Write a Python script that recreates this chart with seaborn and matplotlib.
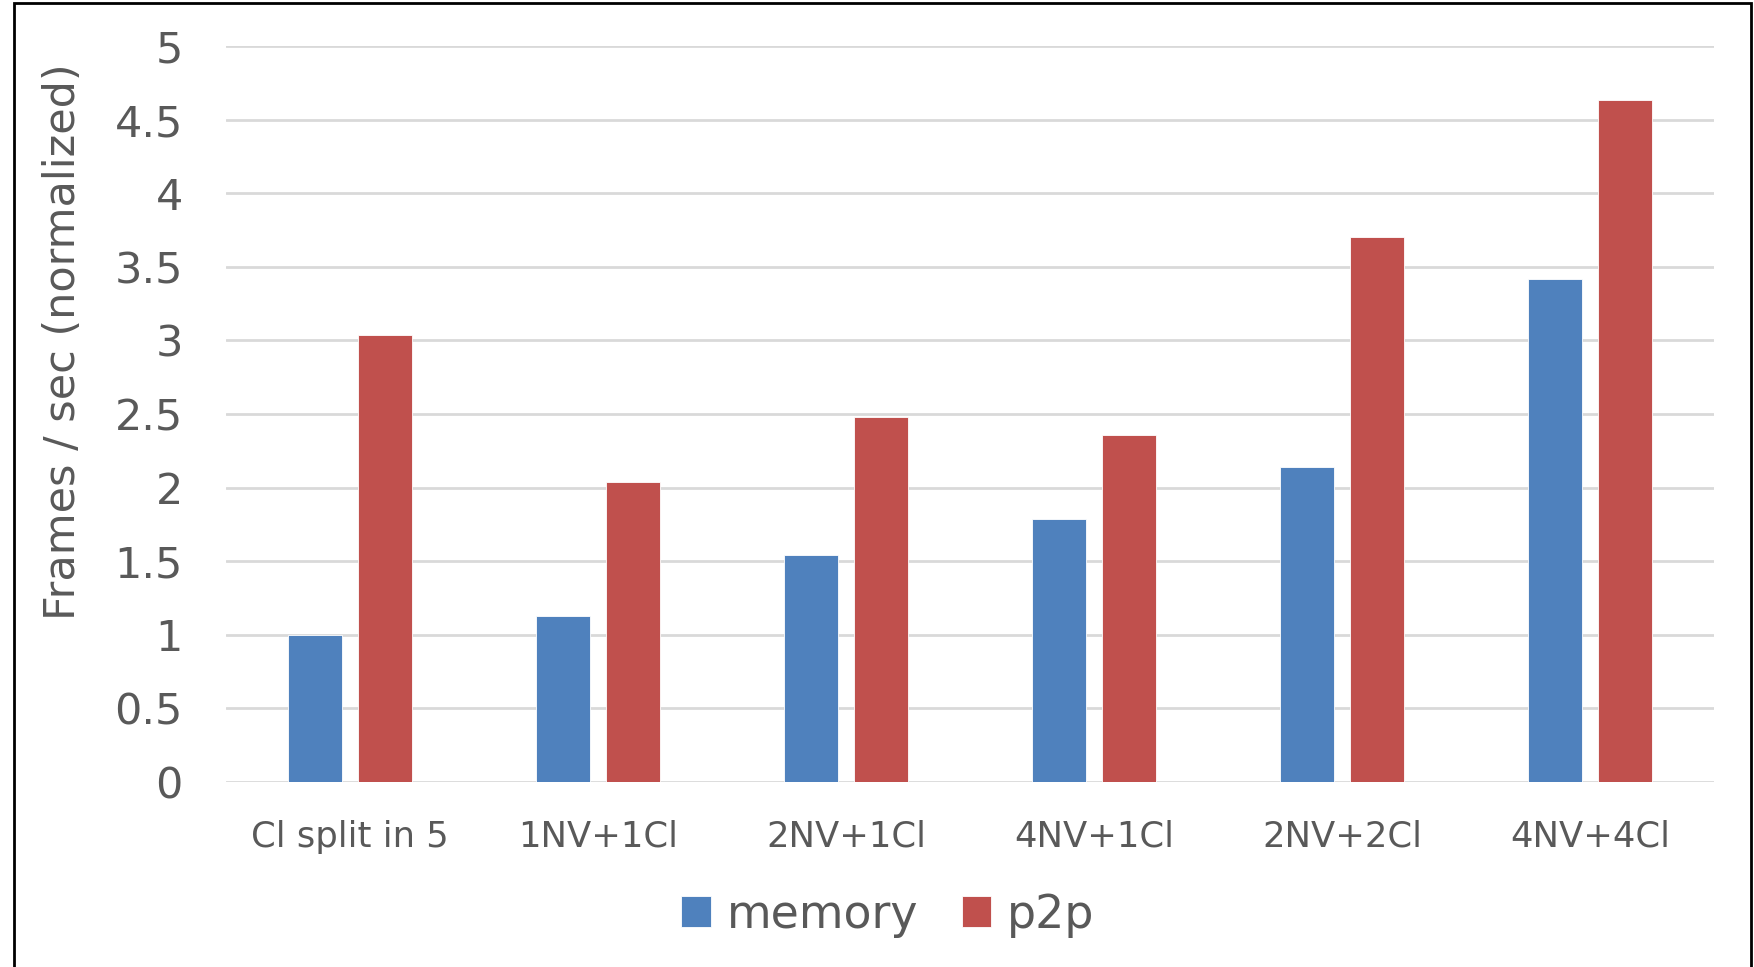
import matplotlib
matplotlib.use("Agg")
import matplotlib.pyplot as plt
from matplotlib.patches import Rectangle
import pandas as pd
import seaborn as sns

# Configurations on the x axis
configs = ["Cl split in 5", "1NV+1Cl", "2NV+1Cl", "4NV+1Cl", "2NV+2Cl", "4NV+4Cl"]
# Normalized frames per second for each transfer mode
memory = [1.00, 1.13, 1.54, 1.79, 2.14, 3.42]
p2p = [3.04, 2.04, 2.48, 2.36, 3.70, 4.63]
series = ["memory", "p2p"]
y_ticks = [0, 0.5, 1, 1.5, 2, 2.5, 3, 3.5, 4, 4.5, 5]
y_tick_labels = ["0", "0.5", "1", "1.5", "2", "2.5", "3", "3.5", "4", "4.5", "5"]

df = pd.DataFrame({
    "config": configs * 2,
    "mode": [series[0]] * len(configs) + [series[1]] * len(configs),
    "fps": memory + p2p,
})

sns.set_theme(style="white")
plt.rcParams["font.family"] = ["DejaVu Sans"]
text_color = "#595959"
palette = {"memory": "#4F81BD", "p2p": "#C0504D"}

fig = plt.figure(figsize=(17.54, 9.67), dpi=100)
ax = fig.add_axes([226 / 1754, 1 - 782 / 967, (1714 - 226) / 1754, (782 - 46) / 967])

sns.barplot(data=df, x="config", y="fps", hue="mode", order=configs,
            hue_order=series, palette=palette, width=0.564, gap=0.216,
            saturation=1, edgecolor="white", linewidth=0.6, ax=ax, zorder=3)

ax.set_xlim(-0.5, len(configs) - 0.5)
ax.set_ylim(0, 5)
ax.set_yticks(y_ticks)
ax.set_yticklabels(y_tick_labels)
ax.yaxis.grid(True, color="#D9D9D9", linewidth=2, zorder=0)
ax.set_axisbelow(True)
for s in ax.spines.values():
    s.set_visible(False)

ax.tick_params(axis="y", length=0, pad=31, labelsize=31, labelcolor=text_color)
ax.tick_params(axis="x", length=0, pad=27, labelsize=25.5, labelcolor=text_color)
ax.set_xlabel("")
ax.set_ylabel("Frames / sec (normalized)", fontsize=31, color=text_color)
ax.yaxis.set_label_coords(-0.0955, 0.598)

leg = ax.legend(loc="center", bbox_to_anchor=(888 / 1754, 1 - 915 / 967),
                bbox_transform=fig.transFigure, ncol=2, frameon=False,
                fontsize=33, handlelength=0.64, handleheight=0.64,
                handletextpad=0.35, columnspacing=0.95)
for t in leg.get_texts():
    t.set_color(text_color)

# Chart frame
fig.patches.append(Rectangle((14 / 1754, -0.01), (1751 - 14) / 1754, 1 - 3 / 967 + 0.01,
                             transform=fig.transFigure, fill=False,
                             edgecolor="black", linewidth=2))

fig.savefig("out.png", dpi=100, facecolor="white")
